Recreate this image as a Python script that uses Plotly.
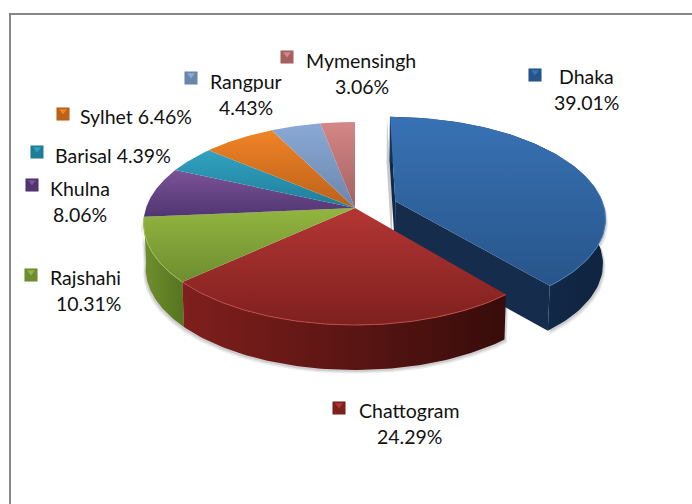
import numpy as np
import plotly.graph_objects as go

categories = ["Dhaka", "Chattogram", "Rajshahi", "Khulna", "Barisal", "Sylhet", "Rangpur", "Mymensingh"]
shares = [39.01, 24.29, 10.31, 8.06, 4.39, 6.46, 4.43, 3.06]

# (light, dark) vertical gradient of the top faces
TOP = [("#3872b4", "#27558a"), ("#b43634", "#7e201e"), ("#93b53f", "#6d8d30"), ("#7c5398", "#503571"),
       ("#31a3c2", "#1f7d98"), ("#f08326", "#bb611a"), ("#8aa9d6", "#6b86ab"), ("#d48786", "#a46061")]
RIM = {0: "#4a7fbc", 1: "#bb4a46", 2: "#a2c153"}
WALL = {0: ("#173358", "#0f2440"), 1: ("#801f1d", "#370c0a"), 2: ("#6f8f2e", "#55741f")}
EXPLODE = {0: 0.207}

# projection of the tilted disc to pixels
CX, CY, R, S, K, DEPTH, SHRINK = 355, 208, 209, 99.1, 0.153, 45, 0.99


def project(u, v, down=False):
    den = 1 + K * v
    x = R * u / den
    y = -S * v / den
    if down:
        return CX + x * SHRINK, CY + y + DEPTH
    return CX + x, CY + y


fractions = np.array(shares) / sum(shares)
edges = np.concatenate([[0], np.cumsum(fractions)]) * 2 * np.pi
traces = []


def poly(x, y, fill=None, grad=None, opacity=1):
    kw = dict(x=list(x), y=list(y), mode="lines", fill="toself", line=dict(width=0, color="rgba(0,0,0,0)"),
              hoverinfo="skip", showlegend=False, opacity=opacity)
    if grad:
        kw["fillgradient"] = dict(type=grad[0], colorscale=[[0, grad[1]], [1, grad[2]]])
        kw["fillcolor"] = grad[1]
    else:
        kw["fillcolor"] = fill
    return go.Scatter(**kw)


def slice_geom(i):
    a0, a1 = edges[i], edges[i + 1]
    mid = (a0 + a1) / 2
    e = EXPLODE.get(i, 0)
    ou, ov = e * np.sin(mid), e * np.cos(mid)
    th = np.linspace(a0, a1, 80)
    return ou + np.sin(th), ov + np.cos(th), ou, ov


def top_face(i):
    u, v, ou, ov = slice_geom(i)
    x, y = project(u, v)
    ax, ay = project(ou, ov)
    return np.r_[ax, x, ax], np.r_[ay, y, ay]


def outer_wall(i):
    u, v, _, _ = slice_geom(i)
    xt, yt = project(u, v)
    xb, yb = project(u, v, True)
    return np.r_[xt, xb[::-1]], np.r_[yt, yb[::-1]], xt, yt


def cut_wall(i, angle):
    e = EXPLODE[i]
    mid = (edges[i] + edges[i + 1]) / 2
    ou, ov = e * np.sin(mid), e * np.cos(mid)
    u = np.array([ou, ou + np.sin(angle)])
    v = np.array([ov, ov + np.cos(angle)])
    xt, yt = project(u, v)
    xb, yb = project(u, v, True)
    return np.r_[xt, xb[::-1]], np.r_[yt, yb[::-1]]


# soft shadows below the walls
for i in (0, 1, 2):
    xw, yw, _, _ = outer_wall(i)
    for grow, op in ((3.5, 0.12), (2, 0.18)):
        traces.append(poly(xw + np.sign(xw - CX) * grow * 0.7, yw + grow, fill="#555555", opacity=op))
xs, ys = cut_wall(0, 0.0)
traces.append(poly(xs - 3, ys + 1, fill="#888888", opacity=0.45))

# exploded slice: walls, then top
xs, ys = cut_wall(0, 0.0)
traces.append(poly(xs, ys, fill="#12284a"))
xs, ys = cut_wall(0, edges[1])
traces.append(poly(xs, ys, fill="#152c4d"))
xw, yw, _, _ = outer_wall(0)
traces.append(poly(xw, yw, grad=("horizontal", *WALL[0])))
xf, yf = top_face(0)
traces.append(poly(xf, yf, grad=("vertical", TOP[0][1], TOP[0][0])))

# remaining walls and tops
for i in (2, 1):
    xw, yw, _, _ = outer_wall(i)
    traces.append(poly(xw, yw, grad=("horizontal", *WALL[i])))
for i in range(1, len(categories)):
    xf, yf = top_face(i)
    traces.append(poly(xf, yf, grad=("vertical", TOP[i][1], TOP[i][0])))

# bright rims on the front arcs
for i, col in RIM.items():
    u, v, _, _ = slice_geom(i)
    keep = v < 0.35
    x, y = project(u[keep], v[keep])
    traces.append(go.Scatter(x=list(x), y=list(y), mode="lines", line=dict(color=col, width=1),
                             hoverinfo="skip", showlegend=False))

# legend-style keys beside the labels
KEY_X = [535, 339, 31, 32, 37, 63, 191, 287]
KEY_Y = [75, 408, 275, 185, 152, 114, 78, 57]
for i in range(len(categories)):
    traces.append(go.Scatter(x=[KEY_X[i]], y=[KEY_Y[i]], mode="markers", hoverinfo="skip", showlegend=False,
                             marker=dict(symbol="square", size=12.5, color=TOP[i][1],
                                         line=dict(color=TOP[i][1], width=0.5))))
    traces.append(go.Scatter(x=[KEY_X[i]], y=[KEY_Y[i] - 3], mode="markers", hoverinfo="skip", showlegend=False,
                             marker=dict(symbol="triangle-down", size=7, color=TOP[i][0], line=dict(width=0))))

fmt = [f"{s:.2f}%" for s in shares]
# text, x, y, anchor
LABELS = [
    (categories[0], 586, 76, "center"), (fmt[0], 586, 102, "center"),
    (categories[1], 409, 410, "center"), (fmt[1], 409, 436, "center"),
    (categories[2], 85, 277, "center"), (fmt[2], 88, 303, "center"),
    (categories[3], 80, 188, "center"), (fmt[3], 80, 214, "center"),
    (f"{categories[4]} {fmt[4]}", 55, 155, "left"),
    (f"{categories[5]} {fmt[5]}", 80, 116, "left"),
    (categories[6], 210, 81, "left"), (fmt[6], 246, 107, "center"),
    (categories[7], 306, 60, "left"), (fmt[7], 362, 86, "center"),
]
annotations = [dict(x=x, y=y, text=t, xanchor=a, yanchor="middle", showarrow=False, xref="x", yref="y",
                    font=dict(family="Lato", size=19.5, color="#111111"), borderpad=0, borderwidth=0)
               for t, x, y, a in LABELS]

fig = go.Figure(traces)
fig.update_layout(
    width=692, height=504, margin=dict(l=0, r=0, t=0, b=0), paper_bgcolor="white", plot_bgcolor="white",
    showlegend=False, annotations=annotations,
    xaxis=dict(range=[0, 692], visible=False, fixedrange=True),
    yaxis=dict(range=[504, 0], visible=False, fixedrange=True),
    shapes=[
        dict(type="line", x0=10, x1=10, y0=14, y1=504, line=dict(color="#868686", width=2)),
        dict(type="line", x0=9, x1=692, y0=14, y1=14, line=dict(color="#868686", width=2)),
    ],
)
fig.write_html("out.html", config=dict(displayModeBar=False),
               post_script="document.body.style.margin='0';document.documentElement.style.overflow='hidden';")
